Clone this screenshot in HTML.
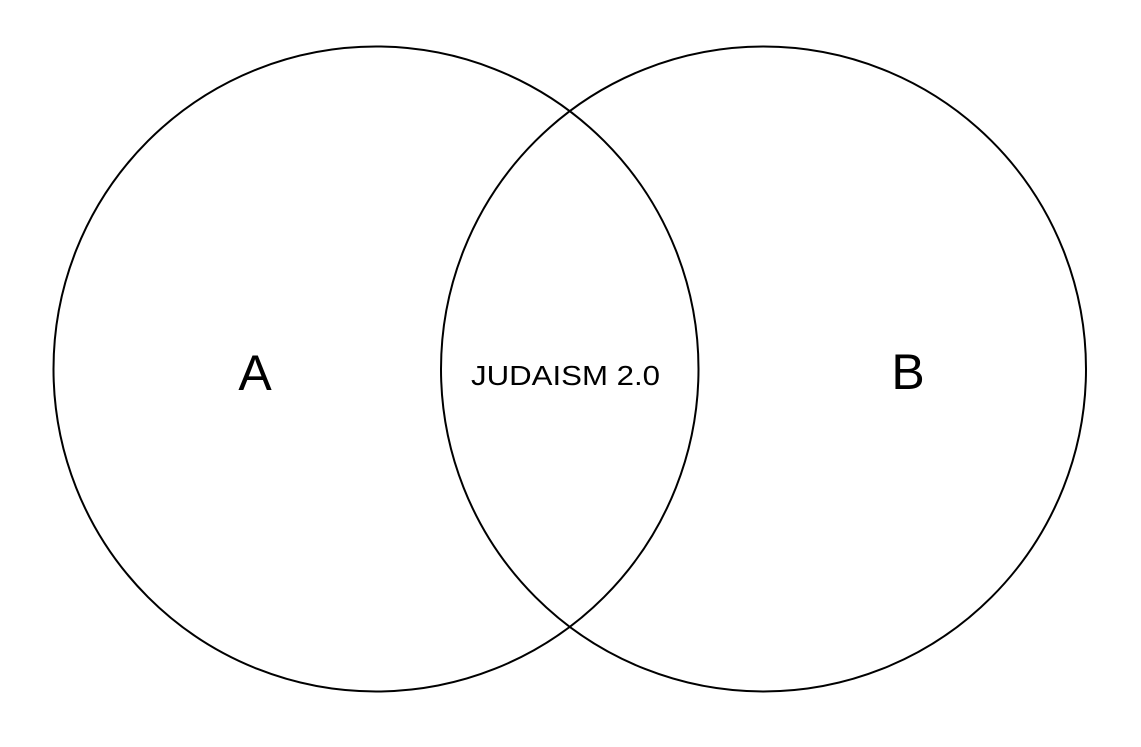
<!DOCTYPE html>
<html><head><meta charset="utf-8"><style>
html,body{margin:0;padding:0;background:#fff;}
svg{display:block;}
text{font-family:"Liberation Sans","DejaVu Sans",sans-serif;fill:#000;}
</style></head><body>
<svg width="1141" height="747" viewBox="0 0 1141 747" xmlns="http://www.w3.org/2000/svg">
<circle cx="376" cy="369" r="322.5" fill="none" stroke="#000" stroke-width="2"/>
<circle cx="763.5" cy="369" r="322.5" fill="none" stroke="#000" stroke-width="2"/>
<text x="255" y="390" font-size="50" text-anchor="middle">A</text>
<text x="908" y="389" font-size="50" text-anchor="middle">B</text>
<text x="471" y="385" font-size="28" textLength="189" lengthAdjust="spacingAndGlyphs">JUDAISM 2.0</text>
</svg>
</body></html>
